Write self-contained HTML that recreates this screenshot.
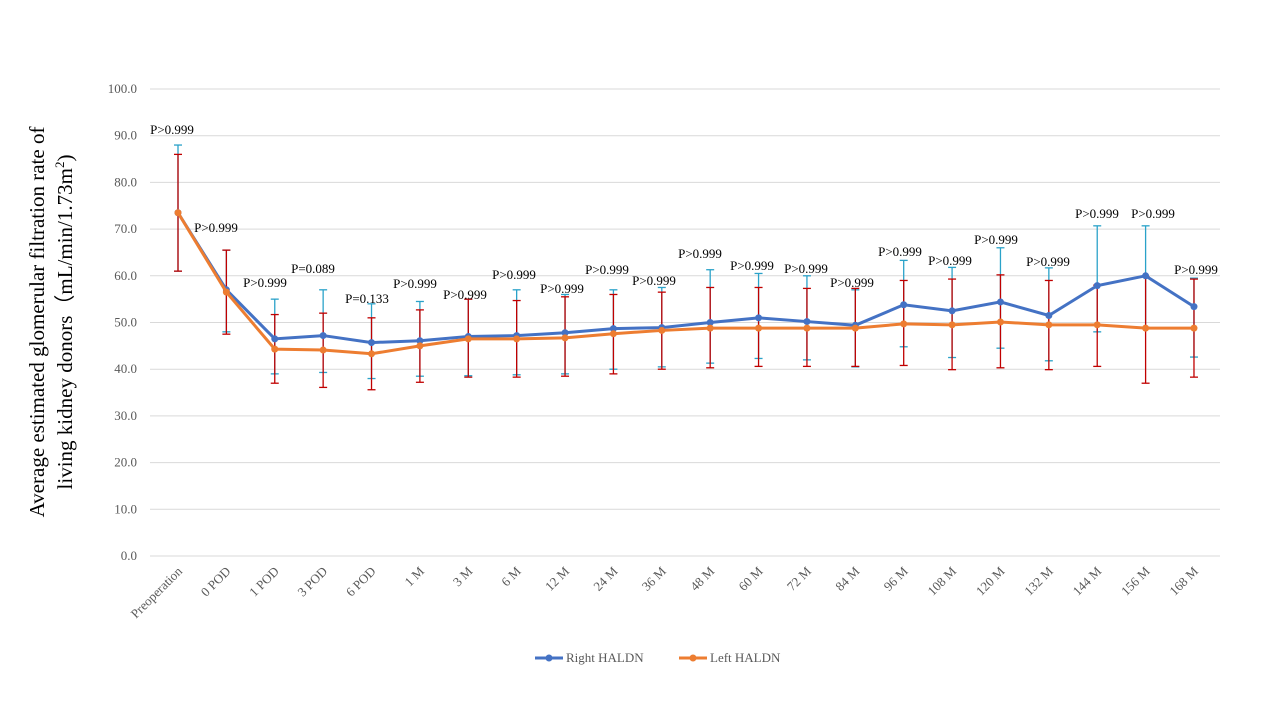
<!DOCTYPE html><html><head><meta charset="utf-8"><style>body{margin:0;background:#fff}svg{display:block}</style></head><body>
<svg id="s" width="1280" height="720" xmlns="http://www.w3.org/2000/svg" font-family="Liberation Serif, serif"></svg>
<script>
const s=document.getElementById('s');let h='';
const Y=v=>556-v*4.67, X=i=>178+i*48.38;
for(let v=0;v<=100;v+=10){h+=`<line x1="150" x2="1220" y1="${Y(v)}" y2="${Y(v)}" stroke="#d9d9d9"/><text x="137" y="${Y(v)+4}" font-size="13" fill="#595959" text-anchor="end">${v.toFixed(1)}</text>`;}
const cats=["Preoperation","0 POD","1 POD","3 POD","6 POD","1 M","3 M","6 M","12 M","24 M","36 M","48 M","60 M","72 M","84 M","96 M","108 M","120 M","132 M","144 M","156 M","168 M"];
cats.forEach((c,i)=>{h+=`<text transform="translate(${X(i)+5},572) rotate(-45)" font-size="13" fill="#595959" text-anchor="end">${c}</text>`});
const b=[73.5,57,46.5,47.2,45.7,46.1,47,47.2,47.8,48.7,48.9,50,51,50.2,49.4,53.8,52.5,54.4,51.5,57.9,60,53.4];
const bu=[88,65.5,55,57,54,54.5,55,57,56,57,57.5,61.3,60.5,60,57,63.3,61.8,66,61.7,70.7,70.7,59.5];
const bl=[61,48,39,39.3,38,38.5,38.6,38.8,39,40,40.5,41.3,42.3,42,40.5,44.8,42.5,44.5,41.8,48,49,42.6];
const o=[73.5,56.5,44.3,44.1,43.3,45,46.5,46.5,46.7,47.6,48.3,48.8,48.8,48.8,48.8,49.7,49.5,50.1,49.5,49.5,48.8,48.8];
const ou=[86,65.5,51.7,52,51,52.7,55,54.7,55.5,56,56.5,57.5,57.5,57.3,57.3,59,59.3,60.2,59,58,59.8,59.3];
const ol=[61,47.5,37,36.1,35.6,37.2,38.3,38.3,38.5,39,40,40.3,40.6,40.6,40.6,40.8,39.9,40.3,39.9,40.6,37,38.3];
function eb(v,u,l,c){v.forEach((_,i)=>{const x=X(i);h+=`<line x1="${x}" x2="${x}" y1="${Y(u[i])}" y2="${Y(l[i])}" stroke="${c}" stroke-width="1.3"/><line x1="${x-4}" x2="${x+4}" y1="${Y(u[i])}" y2="${Y(u[i])}" stroke="${c}" stroke-width="1.3"/><line x1="${x-4}" x2="${x+4}" y1="${Y(l[i])}" y2="${Y(l[i])}" stroke="${c}" stroke-width="1.3"/>`})}
eb(b,bu,bl,"#2aa2c9");eb(o,ou,ol,"#c00000");
function ln(v,c){h+=`<polyline fill="none" stroke="${c}" stroke-width="3" points="${v.map((y,i)=>X(i)+','+Y(y)).join(' ')}"/>`;v.forEach((y,i)=>h+=`<circle cx="${X(i)}" cy="${Y(y)}" r="3.5" fill="${c}"/>`)}
ln(b,"#4472c4");ln(o,"#ed7d31");
const L=[[172,134,">"],[216,232,">"],[265,287,">"],[313,273,"=0.089"],[367,303,"=0.133"],[415,288,">"],[465,299,">"],[514,279,">"],[562,293,">"],[607,274,">"],[654,285,">"],[700,258,">"],[752,270,">"],[806,273,">"],[852,287,">"],[900,256,">"],[950,265,">"],[996,244,">"],[1048,266,">"],[1097,218,">"],[1153,218,">"],[1196,274,">"]];
L.forEach(([x,y,t])=>{h+=`<text x="${x}" y="${y}" font-size="13" text-anchor="middle">P${t==">"?"&gt;0.999":t}</text>`});
h+=`<text transform="translate(44,322) rotate(-90)" font-size="21" text-anchor="middle">Average estimated glomerular filtration rate of</text><text transform="translate(72,322) rotate(-90)" font-size="21" text-anchor="middle">living kidney donors（mL/min/1.73m<tspan font-size="13" dy="-8">2</tspan><tspan dy="8">)</tspan></text>`;
h+=`<line x1="535" x2="563" y1="658" y2="658" stroke="#4472c4" stroke-width="3"/><circle cx="549" cy="658" r="3.5" fill="#4472c4"/><text x="566" y="662" font-size="13" fill="#595959">Right HALDN</text>`;
h+=`<line x1="679" x2="707" y1="658" y2="658" stroke="#ed7d31" stroke-width="3"/><circle cx="693" cy="658" r="3.5" fill="#ed7d31"/><text x="710" y="662" font-size="13" fill="#595959">Left HALDN</text>`;
s.innerHTML=h;
</script></body></html>
